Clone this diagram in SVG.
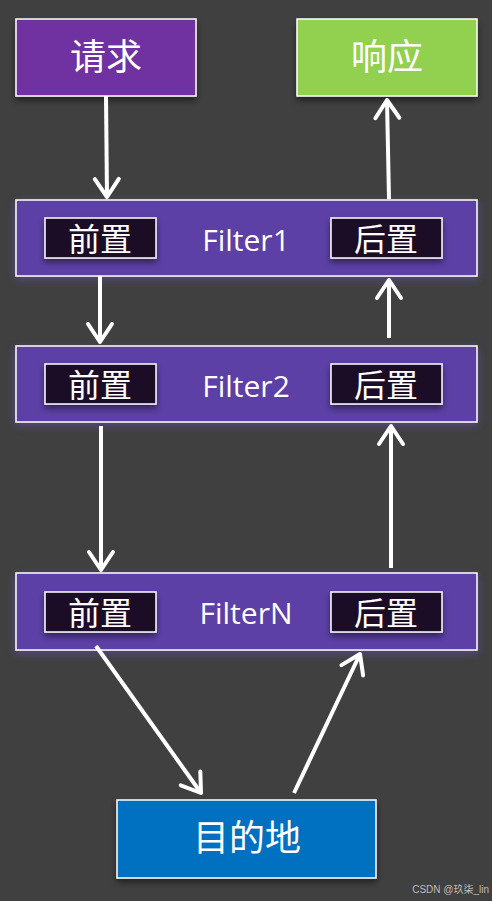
<svg xmlns="http://www.w3.org/2000/svg" width="492" height="901" viewBox="0 0 492 901">
<defs>
<filter id="sh" x="-20%" y="-20%" width="140%" height="160%">
<feDropShadow dx="0" dy="4" stdDeviation="3" flood-color="#000" flood-opacity="0.45"/>
</filter>
<filter id="glow" x="-10%" y="-30%" width="120%" height="160%">
<feDropShadow dx="0" dy="3" stdDeviation="4" flood-color="#6a4fc0" flood-opacity="0.5"/>
</filter>
<marker id="ah" markerWidth="8" markerHeight="8" refX="6" refY="4" orient="auto" markerUnits="strokeWidth">
<path d="M1.5,1 L6,4 L1.5,7" fill="none" stroke="#fff" stroke-width="1" stroke-linecap="round" stroke-linejoin="round"/>
</marker>
</defs>
<style>
.big{font-family:"Noto Sans CJK SC","Liberation Sans",sans-serif;font-size:36px;fill:#fff;text-anchor:middle}
.flt{font-family:"Open Sans","Liberation Sans",sans-serif;font-size:30px;fill:#fff;text-anchor:middle}
.tag{font-family:"Noto Sans CJK SC",sans-serif;font-size:32px;fill:#fff;text-anchor:middle}
.box{stroke:#fff;stroke-width:1.5;filter:url(#sh)}
.fbox{fill:#5B40A6;stroke:#fff;stroke-width:1.5;filter:url(#glow)}
.ibox{fill:#1E1028;stroke:#fff;stroke-width:1.5;filter:url(#sh)}
.con{stroke:#fff;stroke-width:4;fill:none;marker-end:url(#ah)}
</style>
<rect width="492" height="901" fill="#404040"/>
<g id="req"><rect class="box" x="16" y="19" width="180" height="77" fill="#7030A0"/><text class="big" x="106" y="70">请求</text></g>
<g id="resp"><rect class="box" x="297" y="19" width="180" height="77" fill="#92D050"/><text class="big" x="387" y="70">响应</text></g>
<g id="filter1"><rect class="fbox" x="16" y="200" width="461" height="76"/>
<rect class="ibox" x="45" y="218" width="111" height="40"/><text class="tag" x="100" y="251">前置</text>
<text class="flt" x="246" y="251">Filter1</text>
<rect class="ibox" x="331" y="218" width="111" height="40"/><text class="tag" x="386" y="251">后置</text></g>
<g id="filter2"><rect class="fbox" x="16" y="346" width="461" height="76"/>
<rect class="ibox" x="45" y="364" width="111" height="40"/><text class="tag" x="100" y="397">前置</text>
<text class="flt" x="246" y="397">Filter2</text>
<rect class="ibox" x="331" y="364" width="111" height="40"/><text class="tag" x="386" y="397">后置</text></g>
<g id="filterN"><rect class="fbox" x="16" y="573" width="461" height="77"/>
<rect class="ibox" x="45" y="592" width="111" height="40"/><text class="tag" x="100" y="625">前置</text>
<text class="flt" x="246" y="624">FilterN</text>
<rect class="ibox" x="331" y="592" width="111" height="40"/><text class="tag" x="386" y="625">后置</text></g>
<g id="dest"><rect class="box" x="117" y="800" width="259" height="78" fill="#0070C0"/><text class="big" x="247" y="851">目的地</text></g>
<g id="connectors">
<line class="con" x1="106" y1="96" x2="107" y2="197"/>
<line class="con" x1="389" y1="199" x2="387" y2="100"/>
<line class="con" x1="100" y1="276" x2="100" y2="342"/>
<line class="con" x1="389" y1="338" x2="389" y2="280"/>
<line class="con" x1="101" y1="426" x2="101" y2="570"/>
<line class="con" x1="391" y1="568" x2="391" y2="426"/>
<line class="con" x1="96" y1="646" x2="201" y2="793"/>
<line class="con" x1="294" y1="793" x2="360" y2="654"/>
</g>
<text x="489" y="893" font-family="Liberation Sans,Noto Sans CJK SC,sans-serif" font-size="10" fill="#bdbdbd" text-anchor="end">CSDN @玖柒_lin</text>
</svg>
